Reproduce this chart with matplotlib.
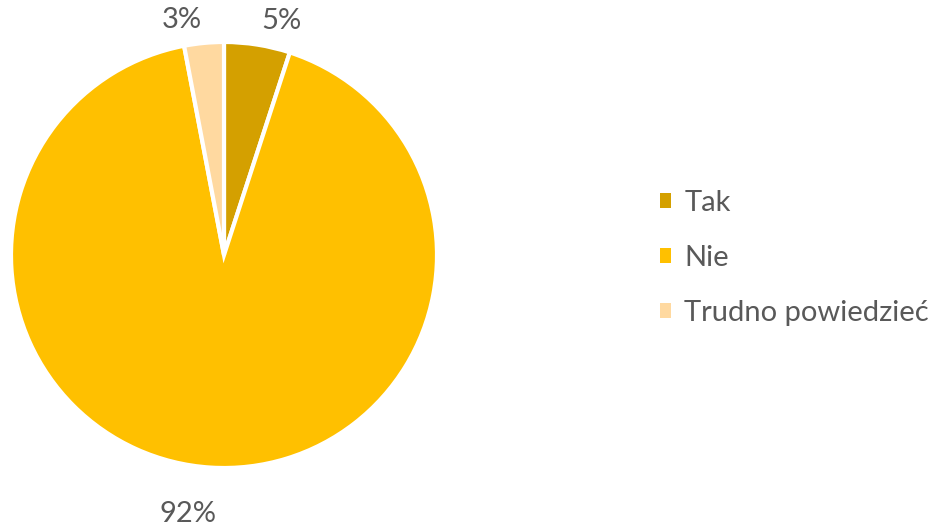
import numpy as np
import matplotlib.pyplot as plt
from matplotlib.patches import Patch

kategorie = ['Tak', 'Nie', 'Trudno powiedzieć']
udzial = [5, 92, 3]
kolory = ['#D4A000', '#FFC000', '#FFD9A0']

plt.rcParams['font.family'] = ['Lato', 'DejaVu Sans']
tekst = '#595959'

W, H = 934, 527
fig = plt.figure(figsize=(W / 100, H / 100), dpi=100)

# koło: środek (224, 255) px, promień 213 px
cx, cy, r = 224, 255, 213
ax = fig.add_axes([(cx - r) / W, (H - cy - r) / H, 2 * r / W, 2 * r / H])

wedges, _ = ax.pie(udzial, colors=kolory, startangle=90, counterclock=False,
                   wedgeprops=dict(edgecolor='white', linewidth=3))
ax.set_xlim(-1, 1)
ax.set_ylim(-1, 1)
ax.set_aspect('equal')

# etykiety procentowe poza kołem
for w, v in zip(wedges, udzial):
    kat = np.deg2rad((w.theta1 + w.theta2) / 2)
    x, y = 1.11 * np.cos(kat), 1.11 * np.sin(kat)
    ha = 'left' if np.cos(kat) > 0 else 'right'
    if y < 0:
        x, y = 1.2 * np.cos(kat) + 0.04, 1.22 * np.sin(kat)
    ax.text(x, y, f'{v}%', ha=ha, va='center', fontsize=21, color=tekst,
            clip_on=False)

uchwyty = [Patch(facecolor=c, edgecolor='none') for c in kolory]
fig.legend(uchwyty, kategorie, loc='center left',
           bbox_to_anchor=(648 / W, 1 - 258 / H), frameon=False,
           borderaxespad=0, fontsize=21, labelcolor=tekst,
           handlelength=0.4, handleheight=0.4,
           handletextpad=0.45, labelspacing=1.0)

fig.savefig('out.png', dpi=100, facecolor='white')
